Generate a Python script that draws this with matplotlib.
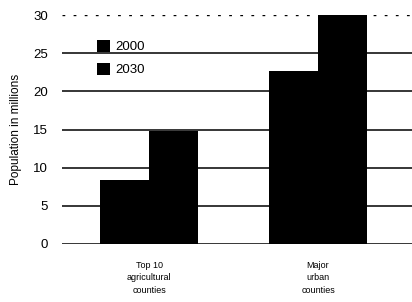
import matplotlib
matplotlib.use('Agg')
import matplotlib.pyplot as plt
import numpy as np

plt.rcParams['font.family'] = ['Liberation Sans', 'DejaVu Sans']

categories = ['Top 10\nagricultural\ncounties', 'Major\nurban\ncounties']
pop_2000 = [8.4, 22.7]
pop_2030 = [14.8, 30.0]
yticks = [0, 5, 10, 15, 20, 25, 30]

fig = plt.figure(figsize=(4.12, 3.02), dpi=100)
ax = fig.add_axes([62 / 412, 58 / 302, 350 / 412, 229 / 302])

x = np.arange(len(categories))
w = 0.29

for t in yticks[:-1]:
    ax.axhline(t, color='black', lw=1.1, zorder=1)
ax.axhline(30, color='black', lw=1.0, ls=(0, (2, 6)), zorder=1)

ax.bar(x - w / 2, pop_2000, w, color='black', label='2000', zorder=2)
ax.bar(x + w / 2, pop_2030, w, color='black', label='2030', zorder=2)

ax.set_xlim(-0.515, 1.556)
ax.set_ylim(0, 30)
ax.set_yticks(yticks)
ax.set_xticks(x)
ax.set_xticklabels(categories, linespacing=1.5)
ax.tick_params(length=0, labelsize=9.5)
ax.tick_params(axis='x', pad=12, labelsize=6.5)
ax.tick_params(axis='y', pad=10)
for s in ax.spines.values():
    s.set_visible(False)

ax.set_ylabel('Population in millions', fontsize=8.5, labelpad=8)

ax.legend(loc='upper left', bbox_to_anchor=(0.085, 0.915), frameon=False,
          fontsize=9.5, handlelength=1.0, handleheight=1.0, handletextpad=0.4,
          labelspacing=0.75, borderaxespad=0)

fig.savefig('out.png', dpi=100)
